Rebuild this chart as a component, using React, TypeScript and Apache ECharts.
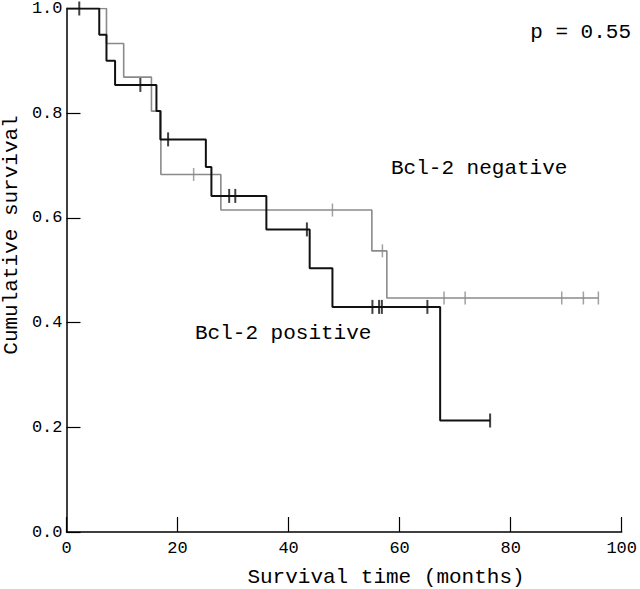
import React, { useEffect, useRef } from "react";
import * as echarts from "echarts";

// Bcl-2 positive (black)
const posTimes = [0, 5.9, 7.2, 8.75, 16.2, 16.9, 25.1, 26.1, 36.0, 43.8, 47.9, 67.3, 76.3];
const posSurv = [1, 0.95, 0.9, 0.854, 0.804, 0.75, 0.697, 0.642, 0.578, 0.504, 0.43, 0.213, 0.213];
const posCensor = [2.3, 13.3, 18.3, 29.3, 30.4, 43.3, 55.1, 56.3, 56.8, 65.0, 76.3];

// Bcl-2 negative (gray)
const negTimes = [0, 7.2, 10.3, 15.3, 17.0, 27.8, 55.0, 57.7, 95.8];
const negSurv = [1, 0.933, 0.869, 0.804, 0.683, 0.615, 0.537, 0.447, 0.447];
const negCensor = [22.9, 47.9, 56.9, 68.0, 71.8, 89.2, 93.1, 95.8];

const xTicks = [0, 20, 40, 60, 80, 100];
const yTicks = [0, 0.2, 0.4, 0.6, 0.8, 1.0];

const FONT = "Liberation Mono";

function survAt(times: number[], surv: number[], t: number) {
  let v = surv[0];
  for (let i = 0; i < times.length; i++) {
    if (times[i] <= t) v = surv[i];
  }
  return v;
}

export default function App() {
  const ref = useRef<HTMLDivElement>(null);
  useEffect(() => {
    document.body.style.margin = "0";
    if (!ref.current) return;
    const chart = echarts.init(ref.current, null, { renderer: "svg" });
    const posLine = posTimes.map((t, i) => [t, posSurv[i]]);
    const negLine = negTimes.map((t, i) => [t, negSurv[i]]);
    const posC = posCensor.map((t) => [t, survAt(posTimes, posSurv, t)]);
    const negC = negCensor.map((t) => [t, survAt(negTimes, negSurv, t)]);
    chart.setOption({
      animation: false,
      backgroundColor: "#fff",
      grid: { left: 66.5, right: 13.5, top: 6, bottom: 57 },
      xAxis: {
        type: "value",
        min: xTicks[0],
        max: xTicks[xTicks.length - 1],
        interval: 20,
        axisLine: { lineStyle: { color: "#000", width: 1.5 } },
        axisTick: { inside: true, length: 15, lineStyle: { color: "#000", width: 1.2 } },
        axisLabel: { color: "#000", fontFamily: FONT, fontSize: 17, margin: 8 },
        splitLine: { show: false },
      },
      yAxis: {
        type: "value",
        min: yTicks[0],
        max: yTicks[yTicks.length - 1],
        interval: 0.2,
        axisLine: { show: true, lineStyle: { color: "#000", width: 1.5 } },
        axisTick: { show: true, inside: true, length: 14, lineStyle: { color: "#000", width: 1.2 } },
        axisLabel: {
          color: "#000",
          fontFamily: FONT,
          fontSize: 17,
          margin: 4,
          formatter: (v: number) => v.toFixed(1),
        },
        splitLine: { show: false },
      },
      series: [
        {
          type: "line",
          step: "end",
          data: negLine,
          symbol: "none",
          lineStyle: { color: "#8a8a8a", width: 1.6 },
          z: 2,
        },
        {
          type: "scatter",
          data: negC,
          symbol: "rect",
          symbolSize: [1.5, 13],
          itemStyle: { color: "#8a8a8a" },
          z: 2,
        },
        {
          type: "line",
          step: "end",
          data: posLine,
          symbol: "none",
          lineStyle: { color: "#111", width: 2 },
          z: 3,
        },
        {
          type: "scatter",
          data: posC,
          symbol: "rect",
          symbolSize: [2, 14],
          itemStyle: { color: "#111" },
          z: 3,
        },
      ],
      graphic: [
        {
          type: "text",
          x: 631,
          y: 32,
          style: { text: "p = 0.55", fill: "#000", font: `21px "${FONT}"`, align: "right", verticalAlign: "middle" },
        },
        {
          type: "text",
          x: 391,
          y: 168,
          style: { text: "Bcl-2 negative", fill: "#000", font: `21px "${FONT}"`, align: "left", verticalAlign: "middle" },
        },
        {
          type: "text",
          x: 195,
          y: 333,
          style: { text: "Bcl-2 positive", fill: "#000", font: `21px "${FONT}"`, align: "left", verticalAlign: "middle" },
        },
        {
          type: "text",
          x: 386,
          y: 577,
          style: { text: "Survival time (months)", fill: "#000", font: `21px "${FONT}"`, align: "center", verticalAlign: "middle" },
        },
        {
          type: "text",
          x: 11,
          y: 235,
          rotation: Math.PI / 2,
          style: { text: "Cumulative survival", fill: "#000", font: `21px "${FONT}"`, align: "center", verticalAlign: "middle" },
        },
      ],
    });
    return () => chart.dispose();
  }, []);
  return <div ref={ref} style={{ width: 640, height: 589 }} />;
}
